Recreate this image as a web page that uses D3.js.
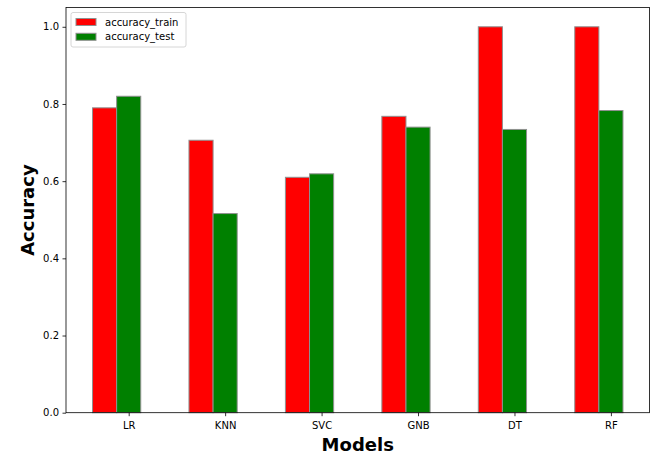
<!DOCTYPE html>
<html>
<head>
<meta charset="utf-8">
<script src="https://cdn.jsdelivr.net/npm/d3@7"></script>
<style>
  body { margin: 0; background: #fff; }
  text { font-family: "DejaVu Sans", sans-serif; }
</style>
</head>
<body>
<svg id="chart" width="663" height="457"></svg>
<script>
// data
const models = ['LR', 'KNN', 'SVC', 'GNB', 'DT', 'RF']
const accTrain = [0.790, 0.706, 0.610, 0.768, 1.0, 1.0]
const accTest = [0.820, 0.516, 0.619, 0.740, 0.734, 0.783]
const yTicks = [0.0, 0.2, 0.4, 0.6, 0.8, 1.0]

const margin = {top: 7.5, right: 13.5, bottom: 44.3, left: 66}
const width = 663 - margin.left - margin.right
const height = 457 - margin.top - margin.bottom
const barW = 0.25

const svg = d3.select('#chart')
const g = svg.append('g')
    .attr('transform', `translate(${margin.left}, ${margin.top})`)

//matplotlib style 5% margins
const xMin = -barW / 2, xMax = models.length - 1 + barW * 1.5
const pad = (xMax - xMin) * 0.05
const x = d3.scaleLinear()
    .domain([xMin - pad, xMax + pad])
    .range([0, width])

const y = d3.scaleLinear()
    .domain([0, 1.05])
    .range([height, 0])

//bars
const series = [
    {name: 'accuracy_train', values: accTrain, color: '#ff0000', off: 0},
    {name: 'accuracy_test', values: accTest, color: '#008000', off: barW}
]

series.forEach(s => {
    g.selectAll(`rect.${s.name}`)
        .data(s.values)
        .enter().append('rect')
        .attr('class', s.name)
        .attr('x', (d, i) => x(i + s.off - barW / 2))
        .attr('width', x(barW) - x(0))
        .attr('y', d => y(d))
        .attr('height', d => height - y(d))
        .attr('fill', s.color)
        .attr('stroke', '#909090')
        .attr('stroke-width', 1)
})

//axes
const xAxis = d3.axisBottom(x)
    .tickValues(models.map((m, i) => i + barW))
    .tickFormat((d, i) => models[i])
    .tickSize(3.5)
    .tickPadding(5.5)

const yAxis = d3.axisLeft(y)
    .tickValues(yTicks)
    .tickFormat(d3.format('.1f'))
    .tickSize(3.5)
    .tickPadding(3.5)

const xg = g.append('g')
    .attr('transform', `translate(0, ${height})`)
    .call(xAxis)
const yg = g.append('g').call(yAxis)

;[xg, yg].forEach(a => {
    a.select('.domain').remove()
    a.selectAll('line').attr('stroke', '#000').attr('stroke-width', 0.8)
    a.selectAll('text').attr('font-size', '10px').attr('fill', '#000')
        .attr('font-family', '"DejaVu Sans", sans-serif')
})

//frame
g.append('rect')
    .attr('width', width)
    .attr('height', height)
    .attr('fill', 'none')
    .attr('stroke', '#000')
    .attr('stroke-width', 0.8)

//axis labels
g.append('text')
    .attr('x', width / 2)
    .attr('y', height + 38)
    .attr('text-anchor', 'middle')
    .attr('font-size', '18px')
    .attr('font-weight', 'bold')
    .text('Models')

g.append('text')
    .attr('transform', 'rotate(-90)')
    .attr('x', -height / 2)
    .attr('y', -32)
    .attr('text-anchor', 'middle')
    .attr('font-size', '18px')
    .attr('font-weight', 'bold')
    .text('Accuracy')

//legend
const lg = g.append('g').attr('transform', 'translate(5, 5)')
lg.append('rect')
    .attr('width', 115)
    .attr('height', 34.5)
    .attr('rx', 2)
    .attr('fill', '#fff')
    .attr('fill-opacity', 0.8)
    .attr('stroke', '#cccccc')
    .attr('stroke-width', 0.8)

series.forEach((s, i) => {
    const row = lg.append('g').attr('transform', `translate(5, ${6 + i * 14.8})`)
    row.append('rect')
        .attr('width', 20)
        .attr('height', 7)
        .attr('fill', s.color)
        .attr('stroke', '#909090')
        .attr('stroke-width', 1)
    row.append('text')
        .attr('x', 29)
        .attr('y', 3.5)
        .attr('dy', '0.35em')
        .attr('font-size', '10px')
        .text(s.name)
})
</script>
</body>
</html>
